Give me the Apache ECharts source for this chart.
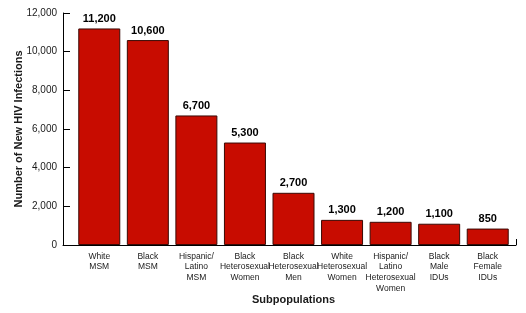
<!DOCTYPE html>
<html>
<head>
<meta charset="utf-8">
<script src="https://cdn.jsdelivr.net/npm/echarts@6/dist/echarts.min.js"></script>
<style>
  html, body { margin: 0; padding: 0; background: #fff; }
  #estrutura { width: 526px; height: 313px; }
</style>
</head>
<body>
<div id="estrutura"></div>
<script>
// data
var categorias = [
    'White\nMSM',
    'Black\nMSM',
    'Hispanic/\nLatino\nMSM',
    'Black\nHeterosexual\nWomen',
    'Black\nHeterosexual\nMen',
    'White\nHeterosexual\nWomen',
    'Hispanic/\nLatino\nHeterosexual\nWomen',
    'Black\nMale\nIDUs',
    'Black\nFemale\nIDUs'
];
var infeccoes = [11200, 10600, 6700, 5300, 2700, 1300, 1200, 1100, 850];
var yTicks = [0, 2000, 4000, 6000, 8000, 10000, 12000];

function CriaDashboard() {
    var chartDom = document.getElementById('estrutura');
    var myChart = echarts.init(chartDom);

    var option = {
        animation: false,
        textStyle: { fontFamily: 'Liberation Sans' },
        grid: [
            { left: 75, right: 14, top: 13, bottom: 68, outerBoundsMode: 'none' },
            // wider grid only used for the long x axis line
            { left: 63, right: 10, top: 13, bottom: 68, outerBoundsMode: 'none' }
        ],
        xAxis: [
            {
                type: 'category',
                gridIndex: 0,
                data: categorias,
                axisLine: { show: false },
                axisTick: { show: false },
                axisLabel: {
                    interval: 0,
                    margin: 6,
                    fontFamily: 'Liberation Sans',
                    fontSize: 8.5,
                    lineHeight: 10.7,
                    color: '#1a1a1a'
                },
                name: 'Subpopulations',
                nameLocation: 'middle',
                nameGap: 49,
                nameMoveOverlap: false,
                nameTextStyle: { fontSize: 11, fontWeight: 'bold', color: '#1a1a1a' }
            },
            {
                type: 'value',
                gridIndex: 1,
                min: 0,
                max: 1,
                interval: 1,
                axisLine: { show: true, lineStyle: { color: '#000', width: 1 } },
                axisTick: { show: true, inside: true, length: 6, lineStyle: { color: '#000' } },
                axisLabel: { show: false },
                splitLine: { show: false }
            }
        ],
        yAxis: [
            {
                type: 'value',
                gridIndex: 0,
                min: yTicks[0],
                max: yTicks[yTicks.length - 1],
                interval: 2000,
                offset: 12,
                axisLine: { show: true, lineStyle: { color: '#000', width: 1 } },
                axisTick: { show: true, inside: true, length: 7, lineStyle: { color: '#000' } },
                splitLine: { show: false },
                axisLabel: {
                    margin: 6,
                    fontSize: 10,
                    color: '#1a1a1a',
                    formatter: function (v) { return v.toLocaleString('en-US'); }
                },
                name: 'Number of New HIV Infections',
                nameLocation: 'middle',
                nameGap: 39,
                nameMoveOverlap: false,
                nameTextStyle: { fontSize: 11, fontWeight: 'bold', color: '#1a1a1a' }
            },
            {
                type: 'value',
                gridIndex: 1,
                show: false
            }
        ],
        series: [
            {
                type: 'bar',
                name: 'Infeccoes',
                xAxisIndex: 0,
                yAxisIndex: 0,
                data: infeccoes,
                barWidth: 42,
                itemStyle: {
                    color: '#c80c00',
                    borderColor: '#3a0a05',
                    borderWidth: 1
                },
                label: {
                    show: true,
                    position: 'top',
                    distance: 4,
                    fontSize: 11,
                    fontWeight: 'bold',
                    color: '#000',
                    formatter: function (p) { return p.value.toLocaleString('en-US'); }
                }
            }
        ]
    };

    option && myChart.setOption(option);
}

CriaDashboard();
</script>
</body>
</html>
